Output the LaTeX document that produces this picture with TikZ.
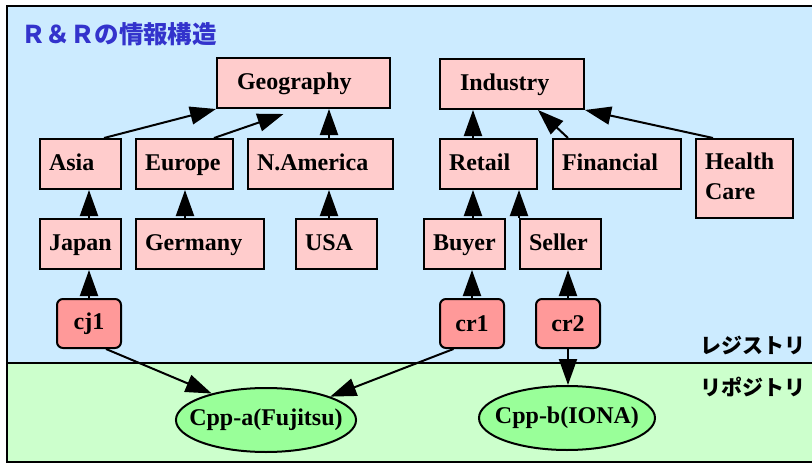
\documentclass[tikz,border=0pt]{standalone}
\usepackage{fontspec}
\setmainfont{Liberation Serif}
\newfontfamily\jpfont{Noto Sans CJK JP}
\usetikzlibrary{arrows.meta,shapes.geometric}
\definecolor{regbg}{RGB}{204,235,255}
\definecolor{repbg}{RGB}{204,255,204}
\definecolor{boxfill}{RGB}{255,204,204}
\definecolor{connfill}{RGB}{255,153,153}
\definecolor{cppfill}{RGB}{153,255,153}
\definecolor{titleblue}{RGB}{51,51,204}
\tikzset{
  arr/.style={draw=black, line width=2pt, -{Triangle[length=26pt,width=18pt]}},
}
\begin{document}
\begin{tikzpicture}[x=1pt,y=-1pt,
  line width=2pt,
  box/.style={draw, fill=boxfill, line width=2pt, anchor=north west,
    inner xsep=9pt, inner ysep=0pt, minimum height=50pt, align=left,
    font=\fontsize{24}{30}\selectfont\bfseries,
    execute at begin node=\strut, execute at end node=\strut},
  conn/.style={draw, fill=connfill, line width=2pt, rounded corners=6pt,
    anchor=north west, minimum width=64pt, minimum height=49pt, inner sep=0pt,
    font=\fontsize{24}{28}\selectfont\bfseries},
  cpp/.style={draw, fill=cppfill, ellipse, line width=2pt,
    minimum width=176pt, minimum height=64pt, inner xsep=-13pt, inner ysep=0pt,
    font=\fontsize{24}{28}\selectfont\bfseries},
  zone/.style={font=\jpfont\bfseries\fontsize{21}{24}\selectfont}]
\useasboundingbox (0,0) rectangle (812,463);
% the two layers: registry (top) and repository (bottom)
\fill[regbg] (7,6) rectangle (830,363);
\fill[repbg] (7,363) rectangle (830,462);
\draw (7,6) rectangle (830,462);
\draw (7,363) -- (830,363);

\node[font=\jpfont\bfseries\fontsize{24.5}{28}\selectfont, text=titleblue, anchor=west, inner sep=0pt]
  (title) at (20,34) {Ｒ＆Ｒの情報構造};
\node[zone, anchor=east, inner sep=0pt] (reg) at (806,345) {レジストリ};
\node[zone, anchor=east, inner sep=0pt] (rep) at (806,387) {リポジトリ};

% classification: geography
\node[box, inner xsep=20pt, minimum width=173pt, text width=133pt] (geo) at (216,57) {Geography};
\node[box, minimum width=81pt, text width=63pt] (asia) at (39,138) {Asia};
\node[box, minimum width=97pt, text width=79pt] (europe) at (135,138) {Europe};
\node[box, minimum width=145pt, text width=127pt] (na) at (247,138) {N.America};
\node[box, minimum width=81pt, text width=63pt] (japan) at (39,218) {Japan};
\node[box, minimum width=128pt, text width=110pt] (germany) at (135,218) {Germany};
\node[box, minimum width=81pt, text width=63pt] (usa) at (295,218) {USA};

% classification: industry
\node[box, inner xsep=20pt, minimum width=144pt, text width=104pt] (ind) at (439,58) {Industry};
\node[box, minimum width=97pt, text width=79pt] (retail) at (439,138) {Retail};
\node[box, minimum width=128pt, text width=110pt] (fin) at (552,138) {Financial};
\node[box, minimum width=97pt, minimum height=79pt, text width=79pt] (hc) at (695,138) {Health\\Care};
\node[box, minimum width=81pt, text width=63pt] (buyer) at (423,218) {Buyer};
\node[box, minimum width=81pt, text width=63pt] (seller) at (519,218) {Seller};

% classified registry entries
\node[conn] (cj1) at (56,298) {cj1};
\node[conn] (cr1) at (439,298) {cr1};
\node[conn] (cr2) at (535,298) {cr2};

% repository objects
\node[cpp] (cppa) at (266,420) {Cpp-a(Fujitsu)};
\node[cpp] (cppb) at (567,418) {Cpp-b(IONA)};

% geography hierarchy
\path[arr] ([xshift=23.5pt]asia.north) -- (geo.south west);
\path[arr] ([xshift=29.5pt]europe.north) -- ([xshift=-20pt,yshift=-5pt]geo.south);
\path[arr] ([xshift=8.5pt]na.north) -- ([xshift=8.5pt]na.north |- geo.south);
\path[arr] ([xshift=8.5pt]japan.north) -- ([xshift=8.5pt]asia.south);
\path[arr] ([xshift=0.5pt]germany.north -| europe.south) -- ([xshift=0.5pt]europe.south);
\path[arr] ([xshift=8.5pt]na.south |- usa.north) -- ([xshift=8.5pt]na.south);

% industry hierarchy
\path[arr] ([xshift=-15.5pt]retail.north) -- ([xshift=-15.5pt]retail.north |- ind.south);
\path[arr] ([xshift=-49pt]fin.north) -- ([xshift=26pt]ind.south);
\path[arr] ([xshift=-31.5pt]hc.north) -- (ind.south east);
\path[arr] ([xshift=8.5pt]buyer.north) -- ([xshift=8.5pt]buyer.north |- retail.south);
\path[arr] (seller.north west) -- (seller.north west |- retail.south);

% entries to classifications
\path[arr] (cj1.north) -- (cj1.north |- japan.south);
\path[arr] (cr1.north) -- (cr1.north |- buyer.south);
\path[arr] (cr2.north) -- (cr2.north |- seller.south);

% entries to repository objects
\path[arr] ([xshift=17pt]cj1.south) -- (cppa.154);
\path[arr] ([xshift=-18.5pt]cr1.south) -- (cppa.20);
\path[arr] (cr2.south) -- (cr2.south |- cppb.north);
\end{tikzpicture}
\end{document}
